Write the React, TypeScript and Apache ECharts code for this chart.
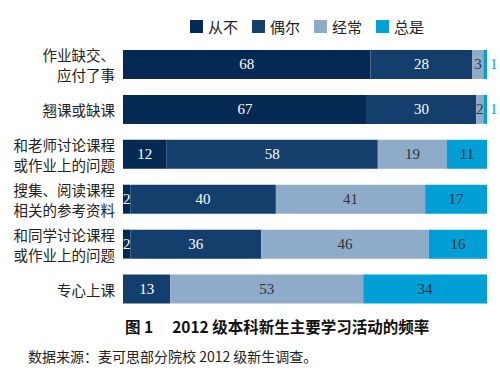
import React, { useEffect, useRef } from "react";
import * as echarts from "echarts";

const categories = [
  "作业缺交、\n应付了事",
  "翘课或缺课",
  "和老师讨论课程\n或作业上的问题",
  "搜集、阅读课程\n相关的参考资料",
  "和同学讨论课程\n或作业上的问题",
  "专心上课",
];
const seriesNames = ["从不", "偶尔", "经常", "总是"];
const never = [68, 67, 12, 2, 2, 0];
const sometimes = [28, 30, 58, 40, 36, 13];
const often = [3, 2, 19, 41, 46, 53];
const always = [1, 1, 11, 17, 16, 34];
const colors = ["#042a53", "#143f6c", "#8eabca", "#009fd6"];
const labelColors = ["#ffffff", "#ffffff", "#333333", "#333333"];
const titleText = "图 1　 2012 级本科新生主要学习活动的频率";
const sourceText = "数据来源：麦可思部分院校 2012 级新生调查。";

export default function App() {
  const ref = useRef<HTMLDivElement>(null);
  useEffect(() => {
    if (!ref.current) return;
    const chart = echarts.init(ref.current, undefined, { renderer: "svg" });
    const all = [never, sometimes, often, always];
    const series = all.map((vals, si) => ({
      name: seriesNames[si],
      type: "bar",
      stack: "total",
      barWidth: 29,
      itemStyle: { color: colors[si] },
      label: {
        show: true,
        position: "inside",
        color: labelColors[si],
        fontSize: 15,
        fontFamily: "Liberation Serif",
        formatter: (p: any) => (p.value === 0 ? "" : String(p.value)),
      },
      data: vals.map((v) => {
        if (si === 3 && v <= 1) {
          return {
            value: v,
            label: { position: "right", distance: 3, color: "#009fd6" },
          };
        }
        return v;
      }),
    }));
    chart.setOption({
      animation: false,
      legend: {
        top: 14,
        left: 185,
        itemWidth: 13,
        itemHeight: 13,
        itemGap: 14,
        icon: "rect",
        textStyle: {
          fontSize: 15,
          color: "#222",
          fontFamily: "Noto Sans CJK SC",
        },
        data: seriesNames,
      },
      grid: { left: 123, right: 13, top: 42, bottom: 63.5 },
      xAxis: { type: "value", min: 0, max: 100, show: false },
      yAxis: {
        type: "category",
        inverse: true,
        data: categories,
        axisLine: { show: false },
        axisTick: { show: false },
        axisLabel: {
          fontSize: 14.5,
          lineHeight: 20,
          color: "#222",
          margin: 8,
          fontFamily: "Noto Sans CJK SC",
        },
      },
      series,
      graphic: [
        {
          type: "text",
          left: 125,
          top: 318,
          style: {
            text: titleText,
            fontSize: 15.5,
            fontWeight: "bold",
            fill: "#111",
            fontFamily: "Noto Sans CJK SC",
          },
        },
        {
          type: "text",
          left: 28,
          top: 349,
          style: {
            text: sourceText,
            fontSize: 14,
            fill: "#222",
            fontFamily: "Noto Sans CJK SC",
          },
        },
      ],
    });
    return () => chart.dispose();
  }, []);
  return (
    <div
      ref={ref}
      style={{ position: "absolute", left: 0, top: 0, width: 500, height: 375, background: "#fff" }}
    />
  );
}
